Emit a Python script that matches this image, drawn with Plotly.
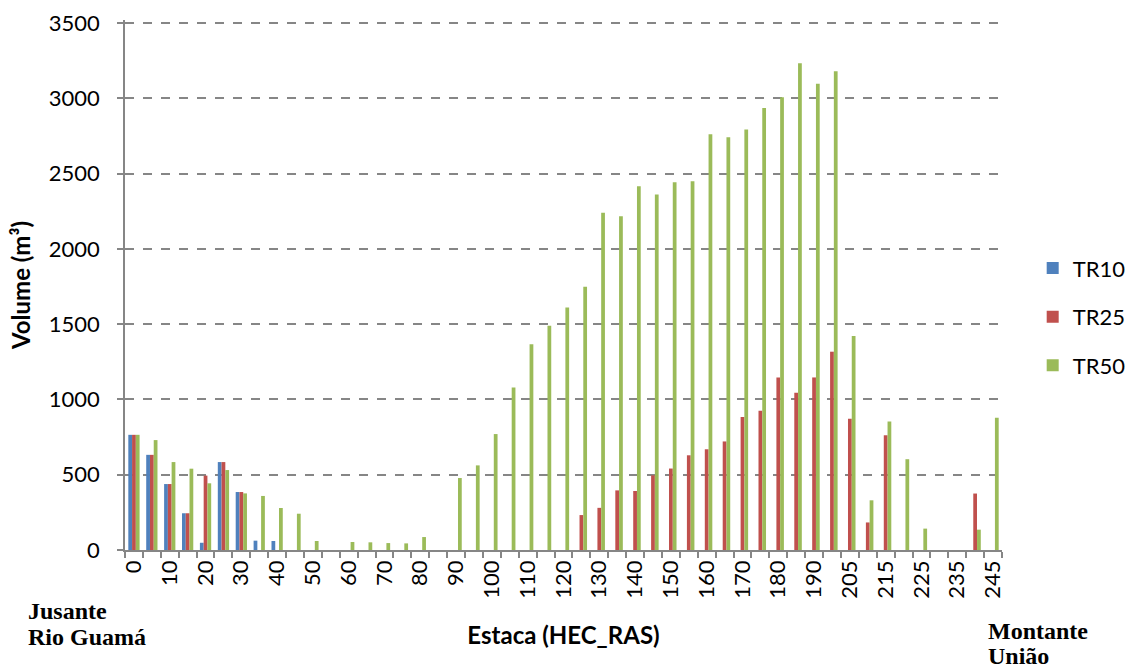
import plotly.graph_objects as go

# Estacas (HEC-RAS stations)
estacas = [str(v) for v in range(0, 200, 5)] + [str(v) for v in range(205, 250, 5)]

tr10 = [765, 632, 438, 244, 48, 584, 385, 62, 60, 0,
        0, 0, 0, 0, 0, 0, 0, 0, 0, 0,
        0, 0, 0, 0, 0, 0, 0, 0, 0, 0,
        0, 0, 0, 0, 0, 0, 0, 0, 0, 0,
        0, 0, 0, 0, 0, 0, 0, 0, 0]

tr25 = [765, 632, 438, 244, 494, 584, 385, 0, 0, 0,
        0, 0, 0, 0, 0, 0, 0, 0, 0, 0,
        0, 0, 0, 0, 0, 232, 280, 396, 392, 496,
        541, 629, 669, 721, 883, 925, 1146, 1044, 1146, 1317,
        871, 183, 762, 0, 0, 0, 0, 375, 0]

tr50 = [765, 730, 584, 540, 443, 531, 376, 359, 279, 241,
        60, 0, 53, 51, 46, 44, 86, 0, 478, 562,
        770, 1080, 1367, 1489, 1611, 1748, 2240, 2216, 2416, 2361,
        2442, 2449, 2762, 2741, 2793, 2935, 3007, 3232, 3097, 3180,
        1421, 330, 854, 603, 142, 0, 0, 135, 878]

y_ticks = [0, 500, 1000, 1500, 2000, 2500, 3000, 3500]

series = [("TR10", tr10, "#4F81BD"), ("TR25", tr25, "#C0504D"), ("TR50", tr50, "#9BBB59")]

tick_text = [e if i % 2 == 0 else "" for i, e in enumerate(estacas)]

font_main = "Lato, 'Open Sans', sans-serif"

fig = go.Figure()
for name, vals, color in series:
    fig.add_trace(go.Bar(x=estacas, y=vals, name=name, marker_color=color,
                         marker_line_width=0, legendgroup=name))

fig.update_layout(
    width=1126, height=668,
    margin=dict(l=125, r=124, t=20, b=118, autoexpand=False),
    paper_bgcolor="white", plot_bgcolor="white",
    barmode="group", bargap=0.37, bargroupgap=0,
    font=dict(family=font_main, size=22, color="#000000"),
    legend=dict(x=1.035, y=0.44, xanchor="left", yanchor="middle",
                font=dict(size=22), tracegroupgap=17, itemwidth=30,
                bgcolor="rgba(0,0,0,0)"),
    xaxis=dict(type="category", tickmode="array", tickvals=estacas, ticktext=tick_text,
               tickangle=-90, tickson="boundaries", ticks="outside", ticklen=6,
               tickcolor="#868686", tickwidth=1.5, showline=True, linecolor="#868686",
               linewidth=1.5, showgrid=False, tickfont=dict(size=22),
               title=dict(text="<b>Estaca (HEC_RAS)</b>", font=dict(size=24), standoff=29)),
    yaxis=dict(range=[0, 3520], tickmode="array", tickvals=y_ticks,
               showline=True, linecolor="#868686", linewidth=1.5,
               ticks="outside", ticklen=6, tickcolor="#868686", tickwidth=1.5,
               ticklabelstandoff=13,
               showgrid=True, gridcolor="#868686", gridwidth=1.5, griddash="dash",
               zeroline=False, tickfont=dict(size=22),
               title=dict(text="<b>Volume (m³)</b>", font=dict(size=24), standoff=11)),
)

serif = "'Liberation Serif', 'Times New Roman', serif"
notes = [("Jusante", -0.113, 611), ("Rio Guamá", -0.113, 637),
         ("Montante", 0.982, 631), ("União", 0.982, 656)]
for txt, xp, ypix in notes:
    fig.add_annotation(text=f"<b>{txt}</b>", xref="paper", yref="paper",
                       x=xp, y=(550 - ypix) / 530, xanchor="left", yanchor="middle",
                       showarrow=False, font=dict(family=serif, size=24, color="#000000"))

fig.write_html("out.html")
